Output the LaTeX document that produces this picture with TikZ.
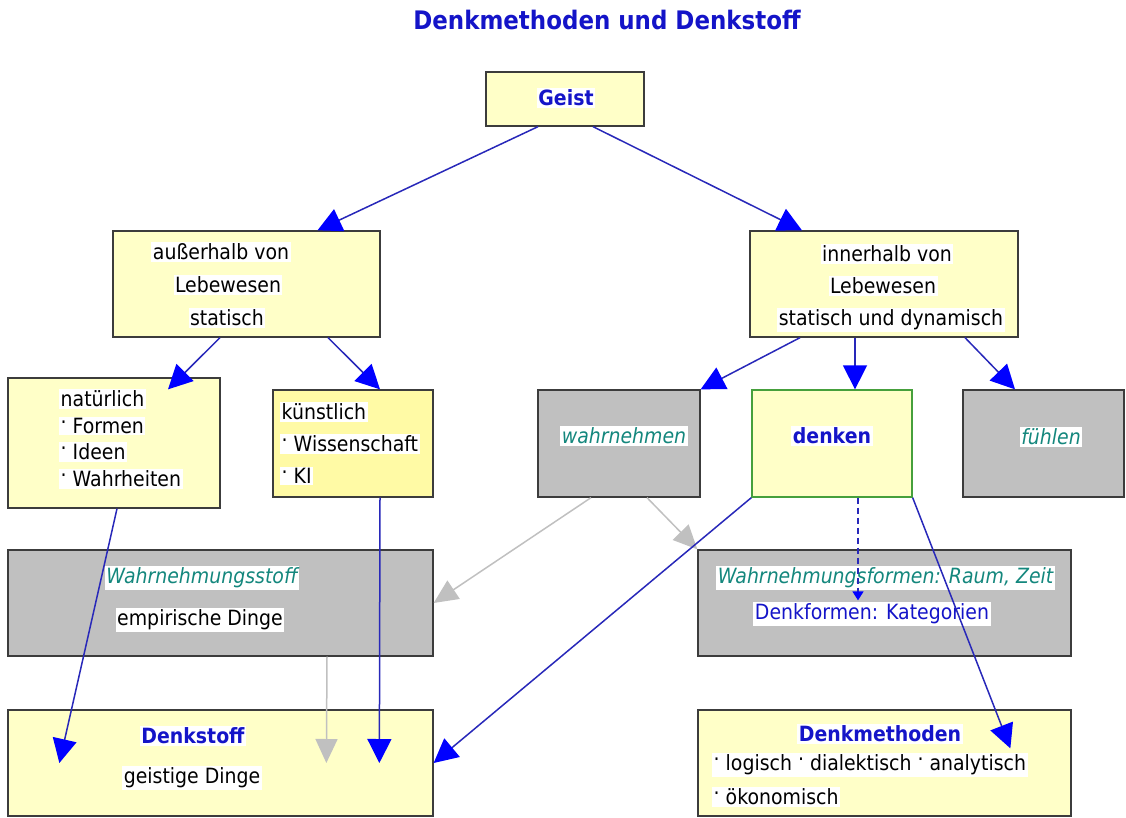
\documentclass[tikz,border=0pt]{standalone}
\usepackage{fontspec}
\setmainfont[FakeStretch=0.9]{DejaVu Sans}
\usetikzlibrary{arrows.meta,calc}
\definecolor{paleyellow}{RGB}{255,255,200}
\definecolor{deepyellow}{RGB}{255,250,165}
\definecolor{boxgray}{RGB}{192,192,192}
\definecolor{boxline}{RGB}{60,60,60}
\definecolor{boxgreen}{RGB}{70,160,60}
\definecolor{headblue}{RGB}{20,20,200}
\definecolor{lineblue}{RGB}{40,40,185}
\definecolor{tipblue}{RGB}{0,0,255}
\definecolor{linegray}{RGB}{192,192,192}
\definecolor{tealtext}{RGB}{20,135,125}
\newcommand{\bul}{\raisebox{0.2em}{·}}
\tikzset{
  box/.style = {draw=boxline, line width=1.3pt, inner sep=0pt},
  yellowbox/.style = {box, fill=paleyellow},
  graybox/.style = {box, fill=boxgray},
  txt/.style = {fill=white, inner sep=1.5pt, text=black, font=\fontsize{21}{24}\selectfont},
  hd/.style = {txt, text=headblue, font=\fontsize{21}{24}\selectfont\bfseries},
  perc/.style = {txt, text=tealtext, font=\fontsize{21}{24}\selectfont\itshape},
  link/.style = {draw=lineblue, line width=1.5pt, -{Triangle[length=24pt,width=24pt,color=tipblue]}},
  greylink/.style = {draw=linegray, line width=1.5pt, -{Triangle[length=24pt,width=22pt]}},
}

\begin{document}
\begin{tikzpicture}[x=1pt,y=-1pt]
  \useasboundingbox (0,0) rectangle (1126,818);
  % title
  \node[font=\fontsize{25.5}{28}\selectfont\bfseries, text=headblue] (title) at (607,20) {Denkmethoden und Denkstoff};
  % boxes
  \node[yellowbox, minimum width=158pt, minimum height=54pt] (geist) at (565,99) {};
  \node[yellowbox, minimum width=267pt, minimum height=106pt] (aus) at (246.5,284) {};
  \node[yellowbox, minimum width=268pt, minimum height=106pt] (inn) at (884,284) {};
  \node[yellowbox, minimum width=212pt, minimum height=130pt] (nat) at (114,443) {};
  \node[box, fill=deepyellow, minimum width=160pt, minimum height=107pt] (kuen) at (353,443.5) {};
  \node[graybox, minimum width=162pt, minimum height=107pt] (wahr) at (619,443.5) {};
  \node[yellowbox, draw=boxgreen, minimum width=160pt, minimum height=107pt] (denken) at (832,443.5) {};
  \node[graybox, minimum width=161pt, minimum height=107pt] (fuehlen) at (1043.5,443.5) {};
  \node[graybox, minimum width=425pt, minimum height=106pt] (wstoff) at (220.5,603) {};
  \node[graybox, minimum width=373pt, minimum height=106pt] (wformen) at (884.5,603) {};
  \node[yellowbox, minimum width=425pt, minimum height=106pt] (dstoff) at (220.5,763) {};
  \node[yellowbox, minimum width=373pt, minimum height=106pt] (dmeth) at (884.5,763) {};
  % texts
  \node[hd] (geisttxt) at (566,98) {Geist};
  \node[txt] (aus1) at (221,252) {außerhalb von};
  \node[txt] (aus2) at (228,285) {Lebewesen};
  \node[txt] (aus3) at (227,318) {statisch};
  \node[txt] (inn1) at (887,254) {innerhalb von};
  \node[txt] (inn2) at (883,286) {Lebewesen};
  \node[txt] (inn3) at (891,320) {statisch und dynamisch};
  \node[txt, anchor=west] (nat1) at (59,399) {natürlich};
  \node[txt, anchor=west] (nat2) at (59,426) {\bul\ Formen};
  \node[txt, anchor=west] (nat3) at (59,452) {\bul\ Ideen};
  \node[txt, anchor=west] (nat4) at (59,479) {\bul\ Wahrheiten};
  \node[txt, anchor=west] (kuen1) at (280,412) {künstlich};
  \node[txt, anchor=west] (kuen2) at (280,444) {\bul\ Wissenschaft};
  \node[txt, anchor=west] (kuen3) at (280,476) {\bul\ KI};
  \node[perc] (wahrtxt) at (624,436) {wahrnehmen};
  \node[hd] (denkentxt) at (832,436) {denken};
  \node[perc] (fuehlentxt) at (1051,437) {fühlen};
  \node[perc] (wstoff1) at (202,578) {Wahrnehmungsstoff};
  \node[txt] (wstoff2) at (200,620) {empirische Dinge};
  \node[perc] (wformen1) at (885.5,578) {Wahrnehmungsformen: Raum, Zeit};
  \node[txt, text=headblue] (wformen2) at (872,614) {Denkformen: Kategorien};
  \node[hd] (dstoff1) at (193,736) {Denkstoff};
  \node[txt] (dstoff2) at (192,778) {geistige Dinge};
  \node[hd] (dmeth1) at (880,734) {Denkmethoden};
  \node[txt, anchor=west] (dmeth2) at (712,765) {\bul\ logisch \bul\ dialektisch \bul\ analytisch};
  \node[txt, anchor=west] (dmeth3) at (712,797) {\bul\ ökonomisch};
  % arrows
  \draw[link] ($(geist.south)+(-27,0)$) -- ($(aus.north)+(71,0)$);
  \draw[link] ($(geist.south)+(28,0)$) -- ($(inn.north)+(-82,0)$);
  \draw[link] ($(aus.south)+(-26.5,0)$) -- ($(nat.north)+(54,12)$);
  \draw[link] ($(aus.south)+(81.5,0)$) -- ($(kuen.north)+(27,0)$);
  \draw[link] ($(inn.south)+(-84,0)$) -- (wahr.north east);
  \draw[link] ($(inn.south)+(-29,0)$) -- ($(denken.north)+(23,0)$);
  \draw[link] ($(inn.south)+(81,0)$) -- ($(fuehlen.north)+(-28.5,0)$);
  \draw[link] ($(nat.south)+(3,0)$) -- ($(dstoff.west)+(52,0)$);
  \draw[link] ($(kuen.south)+(27,0)$) -- ($(dstoff.west)+(372,0)$);
  \draw[greylink] ($(wahr.south)+(-28,0)$) -- (wstoff.east);
  \draw[greylink] ($(wahr.south)+(28,0)$) -- (wformen.north west);
  \draw[greylink] ($(wstoff.south)+(106.5,0)$) -- ($(dstoff.west)+(319,0)$);
  \draw[link] (denken.south west) -- (dstoff.east);
  \draw[draw=lineblue, line width=1.5pt, dash pattern=on 6pt off 4pt, -{Triangle[length=9pt,width=11pt,color=tipblue]}] ($(denken.south)+(26,0)$) -- ($(wformen.north)+(-26.5,51)$);
  \draw[link] (denken.south east) -- ($(dmeth.north west)+(313,39)$);
\end{tikzpicture}
\end{document}
